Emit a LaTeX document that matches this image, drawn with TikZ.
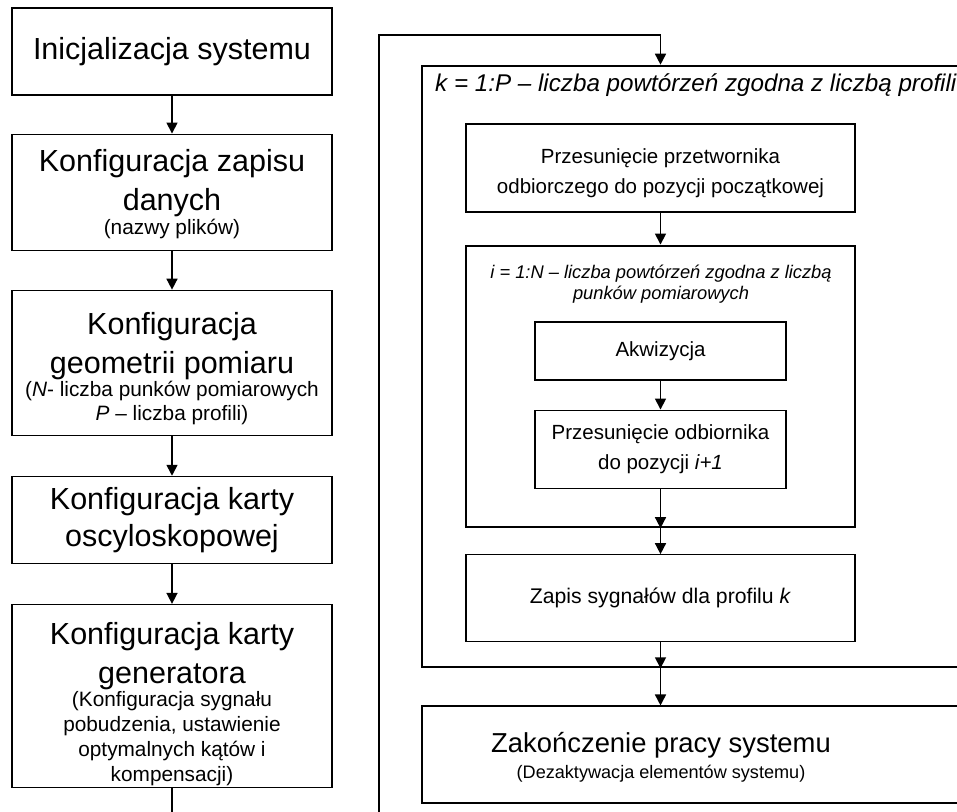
\documentclass[tikz,border=0pt]{standalone}
\usepackage{fontspec}
\setmainfont{Liberation Sans}
\usetikzlibrary{arrows.meta,positioning}
\newcommand{\duzy}{\fontsize{30.5}{33}\selectfont}
\newcommand{\maly}{\fontsize{20.8}{23}\selectfont}
\newcommand{\sredni}{\fontsize{20.5}{28}\selectfont}
\newcommand{\podpora}[1]{\rule{0pt}{#1}}

\begin{document}
\begin{tikzpicture}[x=1pt,y=-1pt,
    blok/.style={draw, line width=1.1pt, align=center, inner sep=0pt},
    lewy/.style={blok, minimum width=320pt, font=\duzy},
    prawy/.style={blok, minimum width=389pt, font=\sredni},
    ramka/.style={draw, line width=2.6pt, inner sep=0pt},
    strz/.style={-{Triangle[length=11pt,width=11pt]}, line width=1.6pt}]
  \clip (0,0) rectangle (957,811);

  % lewa kolumna
  \node[lewy, minimum height=87pt] (init) at (172,51.5) {Inicjalizacja systemu};
  \node[lewy, minimum height=116pt, below=38pt of init] (pliki)
    {\podpora{26pt}Konfiguracja zapisu\\[6pt]danych\\[-9pt]\maly (nazwy plików)};
  \node[lewy, minimum height=145pt, below=39pt of pliki] (geom)
    {\podpora{34pt}Konfiguracja\\[6pt]geometrii pomiaru\\[-10pt]\maly (\textit{N}- liczba punków pomiarowych\\[-9pt]\maly \textit{P} – liczba profili)};
  \node[lewy, minimum height=87pt, below=40pt of geom] (osc)
    {Konfiguracja karty\\[4pt]oscyloskopowej};
  \node[lewy, minimum height=183pt, below=40pt of osc] (gen)
    {\podpora{38pt}Konfiguracja karty\\[6pt]generatora\\[-10pt]\maly (Konfiguracja sygnału\\[-8pt]\maly pobudzenia, ustawienie\\[-8pt]\maly optymalnych kątów i\\[-8pt]\maly kompensacji)};

  \draw[strz] (init) -- (pliki);
  \draw[strz] (pliki) -- (geom);
  \draw[strz] (geom) -- (osc);
  \draw[strz] (osc) -- (gen);

  % petla po profilach
  \node[ramka, minimum width=578pt, minimum height=601pt] (kloop) at (711,366.5) {};
  \node[anchor=base west, inner sep=0pt, font=\fontsize{24.2}{28}\selectfont\itshape] (klab) at (435,91)
    {k = 1:P – liczba powtórzeń zgodna z liczbą profili};
  \node[prawy, minimum height=88pt] (start) at (660.5,168)
    {\podpora{25pt}Przesunięcie przetwornika\\[2pt]odbiorczego do pozycji początkowej};

  % petla po punktach
  \node[ramka, minimum width=389pt, minimum height=281pt, below=32pt of start] (iloop) {};
  \node[align=center, inner sep=0pt, font=\fontsize{18.3}{21}\selectfont\itshape] (ilab) at (661,284)
    {i = 1:N – liczba powtórzeń zgodna z liczbą\\punków pomiarowych};
  \node[blok, minimum width=251pt, minimum height=58pt, font=\sredni] (akw) at (660.5,351) {Akwizycja};
  \node[blok, minimum width=251pt, minimum height=78pt, font=\sredni, below=29pt of akw] (odb)
    {Przesunięcie odbiornika\\[2pt]do pozycji \textit{i+1}};

  \node[prawy, minimum height=87pt, below=26pt of iloop, font=\fontsize{21.2}{25}\selectfont] (zapsyg)
    {Zapis sygnałów dla profilu \textit{k}};

  % koniec
  \node[blok, minimum width=578pt, minimum height=97pt] (koniecbox) at (711,754.5) {};
  \node[align=center, inner sep=0pt, font=\fontsize{27.4}{26}\selectfont] (koniec) at (661,757)
    {Zakończenie pracy systemu\\\fontsize{18.1}{21}\selectfont (Dezaktywacja elementów systemu)};

  \coordinate (powrot) at (379,850);
  \draw[strz] (gen.south) |- (powrot) -- (379,35) -| (kloop.north -| start.north);
  \draw[strz] (start) -- (iloop);
  \draw[strz] (akw) -- (odb);
  \draw[strz] (odb.south) -- (odb.south |- iloop.south);
  \draw[strz] (iloop.south) -- (zapsyg.north);
  \draw[strz] (zapsyg.south) -- (zapsyg.south |- kloop.south);
  \draw[strz] (kloop.south -| zapsyg.south) -- (koniecbox.north -| zapsyg.south);
\end{tikzpicture}
\end{document}
